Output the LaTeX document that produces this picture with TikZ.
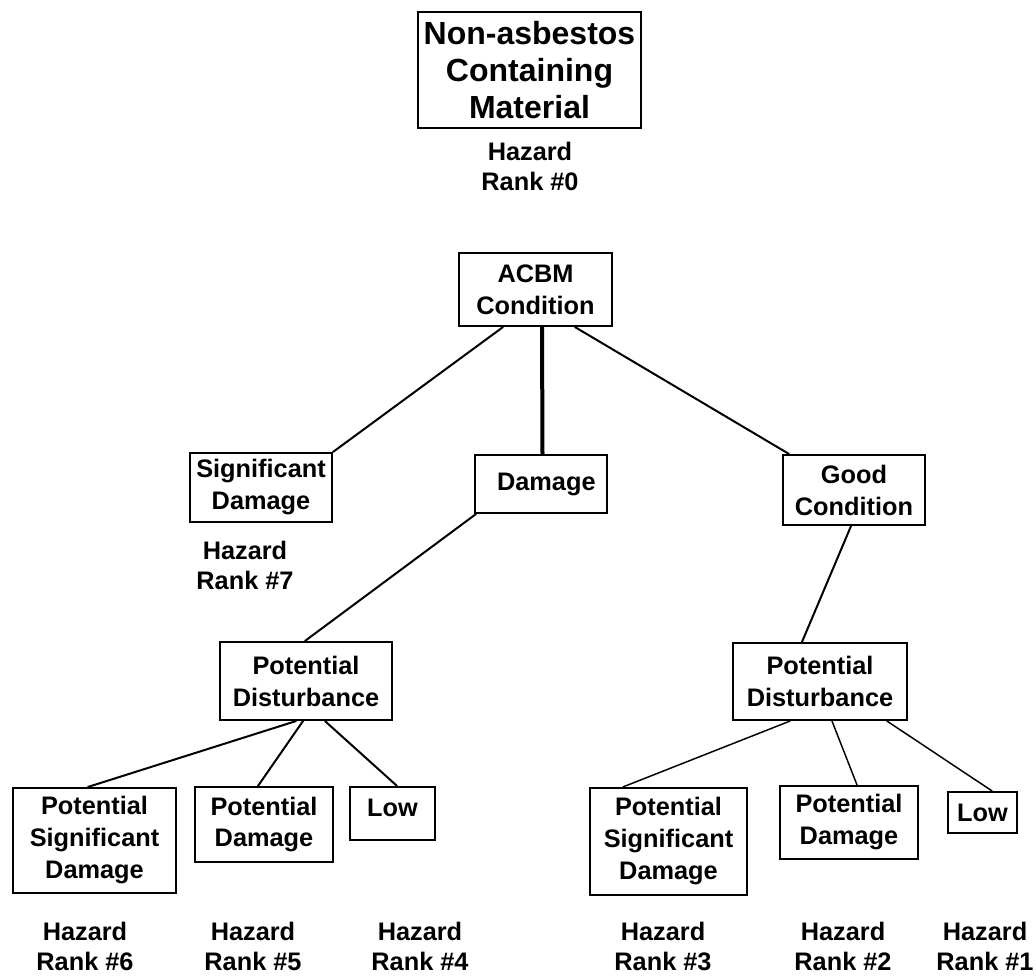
\documentclass[tikz,border=0pt]{standalone}
\usepackage{fontspec}
\setmainfont{Liberation Sans}
\usetikzlibrary{calc}
\begin{document}
\begin{tikzpicture}[x=0.75pt,y=-0.75pt,
  box/.style={draw, line width=1.6pt, inner sep=0pt, align=center,
    font=\bfseries\fontsize{19}{24}\selectfont},
  rank/.style={inner sep=0pt, align=center,
    font=\bfseries\fontsize{19}{22.5}\selectfont},
  conn/.style={line width=1.5pt, line cap=round},
  thinconn/.style={line width=1.1pt, line cap=round},
  thickconn/.style={line width=3pt}]
\useasboundingbox (0,0) rectangle (1036,977);

% boxes
\node[box, minimum width=167.25pt, minimum height=87pt,
  font=\bfseries\fontsize{24}{27.7}\selectfont] (top) at (529.5,70)
  {Non-asbestos\\Containing\\Material};
\node[rank] (r0) at (530,166) {Hazard\\Rank \#0};

\node[box, minimum width=114.75pt, minimum height=54.75pt] (acbm) at (535.5,289.5) {ACBM\\Condition};

\node[box, minimum width=106.5pt, minimum height=51.75pt] (sig) at (261,487.5) {Significant\\Damage};
\node[rank] (r7) at (245,565) {Hazard\\Rank \#7};

\node[box, minimum width=99pt, minimum height=43.5pt] (dam) at (541,484) {\hspace*{8pt}Damage};

\node[box, minimum width=106.5pt, minimum height=52.5pt] (good) at (854,490) {Good\\Condition};

\node[box, minimum width=129pt, minimum height=58.5pt] (pdl) at (306,681) {Potential\\Disturbance};
\node[box, minimum width=130.5pt, minimum height=57.75pt] (pdr) at (820,681.5) {Potential\\Disturbance};

\node[box, minimum width=122.25pt, minimum height=78.75pt] (psdl) at (94.5,840.5) {Potential\\Significant\\Damage};
\node[box, minimum width=103.5pt, minimum height=56.25pt] (pdaml) at (264,824.5) {Potential\\Damage};
\node[box, minimum width=63.75pt, minimum height=39.75pt, text depth=9pt] (lowl) at (392.5,813.5) {Low};

\node[box, minimum width=117.75pt, minimum height=80.25pt] (psdr) at (668.5,841.5) {Potential\\Significant\\Damage};
\node[box, minimum width=103.5pt, minimum height=54.75pt] (pdamr) at (849,822.5) {Potential\\Damage};
\node[box, minimum width=51.75pt, minimum height=30.75pt] (lowr) at (982.5,812.5) {Low};

\node[rank] (r6) at (85,946) {Hazard\\Rank \#6};
\node[rank] (r5) at (253,946) {Hazard\\Rank \#5};
\node[rank] (r4) at (420,946) {Hazard\\Rank \#4};
\node[rank] (r3) at (663,946) {Hazard\\Rank \#3};
\node[rank] (r2) at (843,946) {Hazard\\Rank \#2};
\node[rank] (r1) at (985,946) {Hazard\\Rank \#1};

% connectors
\draw[conn] ($(acbm.south)+(-32.5,0)$) -- (sig.north east);
\draw[thickconn] ($(acbm.south)+(6.5,0)$) -- ($(dam.north)+(1.5,0)$);
\draw[conn] ($(acbm.south)+(39.5,0)$) -- ($(good.north west)+(7,0)$);
\draw[conn] ($(dam.south west)+(2,0)$) -- ($(pdl.north)+(-1,0)$);
\draw[conn] ($(good.south)+(-3,0)$) -- ($(pdr.north)+(-18,0)$);

\draw[conn] ($(pdl.south)+(-10,0)$) -- ($(psdl.north)+(-6.5,0)$);
\draw[conn] ($(pdl.south)+(-3,0)$) -- ($(pdaml.north)+(-6,0)$);
\draw[conn] ($(pdl.south)+(19,0)$) -- ($(lowl.north)+(4.5,0)$);

\draw[thinconn] ($(pdr.south)+(-30,0)$) -- ($(psdr.north)+(-45.5,0)$);
\draw[thinconn] ($(pdr.south)+(12,0)$) -- ($(pdamr.north)+(8,0)$);
\draw[thinconn] ($(pdr.south)+(67,0)$) -- ($(lowr.north)+(9.5,0)$);
\end{tikzpicture}
\end{document}
